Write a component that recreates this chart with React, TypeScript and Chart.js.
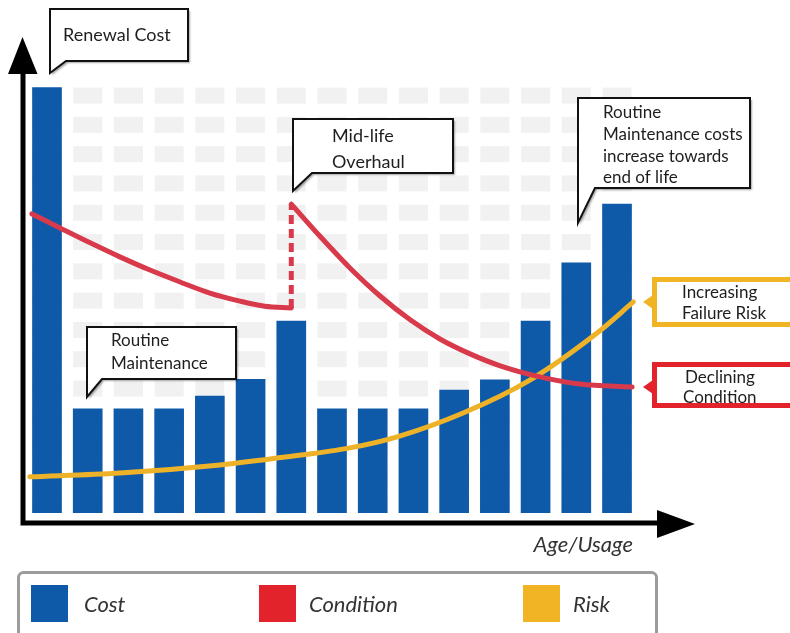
import React, { useEffect, useRef } from 'react';
import { Chart, registerables } from 'chart.js';

Chart.register(...registerables);

// ---- data ----
const ageSteps = [1, 2, 3, 4, 5, 6, 7, 8, 9, 10, 11, 12, 13, 14, 15];
const costValues = [100, 24.5, 24.5, 24.5, 27.5, 31.4, 45.1, 24.5, 24.5, 24.5, 28.9, 31.3, 45.1, 58.8, 72.6];
const conditionBeforeX = [0.63, 1.32, 2.06, 2.79, 3.53, 4.27, 5.0, 5.74, 6.35, 7];
const conditionBeforeY = [70.3, 67.0, 63.5, 60.2, 57.1, 54.3, 51.7, 49.8, 48.6, 48.2];
const conditionAfterX = [7, 7.7, 8.44, 9.18, 9.92, 10.65, 11.39, 12.13, 13.11, 14.09, 15.37];
const conditionAfterY = [72.6, 65.1, 57.6, 51.0, 45.4, 40.9, 37.4, 34.6, 32.0, 30.3, 29.6];
const riskX = [0.58, 2.79, 5.25, 6.9, 8.44, 9.6, 11.22, 12.87, 14.51, 15.4];
const riskY = [8.5, 9.4, 11.3, 13.2, 15.3, 17.9, 23.5, 31.3, 42.3, 49.6];
const legendLabels = ['Cost', 'Condition', 'Risk'];
const axisTitle = 'Age/Usage';
const calloutTexts = [
  ['Renewal Cost'],
  ['Mid-life', 'Overhaul'],
  ['Routine', 'Maintenance'],
  ['Routine', 'Maintenance costs', 'increase towards', 'end of life'],
];
const riskLabel = ['Increasing', 'Failure Risk'];
const conditionLabel = ['Declining', 'Condition'];

// ---- styles ----
const BLUE = '#0f5aa8';
const RED_LINE = '#d83a4b';
const YELLOW_LINE = '#eeb229';
const RED_BOX = '#e2232c';
const YELLOW_BOX = '#f0b424';
const FONT = 'Lato, "Open Sans", sans-serif';

const bubbles = [
  { l: 50, t: 9, r: 188, b: 61, px: 66, tipY: 73, tx: 63, ty: [41], size: 18 },
  { l: 293, t: 119, r: 453, b: 173, px: 312, tipY: 191, tx: 332, ty: [142, 168], size: 18 },
  { l: 87, t: 327, r: 236, b: 379, px: 102, tipY: 397, tx: 111, ty: [346, 369], size: 17 },
  { l: 578, t: 98, r: 750, b: 188, px: 595, tipY: 223, tx: 603, ty: [118, 140, 162, 183], size: 17 },
];

const decorPlugin = {
  id: 'decor',
  beforeDatasetsDraw(chart: any) {
    const { ctx, scales } = chart;
    const xs = scales.x;
    const ys = scales.y;
    ctx.save();
    ctx.fillStyle = '#f1f1f1';
    const top0 = ys.getPixelForValue(100);
    const bottom = ys.getPixelForValue(0);
    for (const c of ageSteps) {
      const cx = xs.getPixelForValue(c);
      for (let k = 0; ; k++) {
        const t = top0 + k * 29.3;
        if (t > bottom - 4) break;
        ctx.fillRect(cx - 14.5, t, 29, Math.min(16, bottom - t));
      }
    }
    ctx.restore();
  },
  afterDraw(chart: any) {
    const { ctx, scales } = chart;
    const ys = scales.y;
    ctx.save();
    // axes
    ctx.strokeStyle = '#000';
    ctx.fillStyle = '#000';
    ctx.lineWidth = 5;
    ctx.beginPath();
    ctx.moveTo(23, 70);
    ctx.lineTo(23, 525);
    ctx.moveTo(20.5, 523);
    ctx.lineTo(660, 523);
    ctx.stroke();
    ctx.beginPath();
    ctx.moveTo(22.5, 37);
    ctx.lineTo(37.5, 74);
    ctx.lineTo(8, 74);
    ctx.closePath();
    ctx.fill();
    ctx.beginPath();
    ctx.moveTo(695, 524);
    ctx.lineTo(657, 510);
    ctx.lineTo(657, 538);
    ctx.closePath();
    ctx.fill();

    // axis title
    ctx.font = 'italic 22px ' + FONT;
    ctx.fillStyle = '#333';
    ctx.textAlign = 'right';
    ctx.textBaseline = 'alphabetic';
    ctx.fillText(axisTitle, 633, 552);

    // speech bubbles
    ctx.textAlign = 'left';
    bubbles.forEach((b, i) => {
      ctx.save();
      ctx.beginPath();
      ctx.moveTo(b.l, b.t);
      ctx.lineTo(b.r, b.t);
      ctx.lineTo(b.r, b.b);
      ctx.lineTo(b.px, b.b);
      ctx.lineTo(b.l, b.tipY);
      ctx.closePath();
      ctx.fillStyle = '#fff';
      ctx.shadowColor = 'rgba(0,0,0,0.35)';
      ctx.shadowOffsetX = 2;
      ctx.shadowOffsetY = 2;
      ctx.shadowBlur = 2;
      ctx.fill();
      ctx.shadowColor = 'transparent';
      ctx.lineWidth = 2;
      ctx.strokeStyle = '#111';
      ctx.stroke();
      ctx.fillStyle = '#1e1e1e';
      ctx.font = b.size + 'px ' + FONT;
      calloutTexts[i].forEach((line, j) => ctx.fillText(line, b.tx, b.ty[j]));
      ctx.restore();
    });

    // right-hand labelled boxes
    const sideBox = (color: string, top: number, bottom: number, notchY: number, lines: string[], tx: number[], ty: number[]) => {
      ctx.save();
      ctx.fillStyle = '#fff';
      ctx.fillRect(654, top, 150, bottom - top);
      ctx.strokeStyle = color;
      ctx.lineWidth = 5;
      ctx.strokeRect(654.5, top, 150, bottom - top);
      ctx.fillStyle = color;
      ctx.beginPath();
      ctx.moveTo(653, notchY - 7);
      ctx.lineTo(643, notchY);
      ctx.lineTo(653, notchY + 7);
      ctx.closePath();
      ctx.fill();
      ctx.fillStyle = '#1e1e1e';
      ctx.font = '17px ' + FONT;
      lines.forEach((l, j) => ctx.fillText(l, tx[j], ty[j]));
      ctx.restore();
    };
    sideBox(YELLOW_BOX, 279.5, 324.5, ys.getPixelForValue(riskY[riskY.length - 1]), riskLabel, [682, 682], [298, 319]);
    sideBox(RED_BOX, 364.5, 405.5, ys.getPixelForValue(conditionAfterY[conditionAfterY.length - 1]), conditionLabel, [685, 683], [383, 403]);

    // legend
    ctx.strokeStyle = '#9c9c9c';
    ctx.lineWidth = 3;
    ctx.beginPath();
    (ctx as any).roundRect(18.5, 572.5, 638, 75, 5);
    ctx.stroke();
    const swatchX = [31, 259, 523];
    const swatchColors = [BLUE, RED_BOX, YELLOW_BOX];
    const textX = [84, 309, 573];
    ctx.font = 'italic 22px ' + FONT;
    legendLabels.forEach((lab, i) => {
      ctx.fillStyle = swatchColors[i];
      ctx.fillRect(swatchX[i], 585, 37, 37);
      ctx.fillStyle = '#333';
      ctx.fillText(lab, textX[i], 612);
    });
    ctx.restore();
  },
};

export default function App() {
  const canvasRef = useRef<HTMLCanvasElement | null>(null);

  useEffect(() => {
    const canvas = canvasRef.current;
    if (!canvas) return;
    const toPts = (xs: number[], ys: number[]) => xs.map((x, i) => ({ x, y: ys[i] }));
    const lineBase = {
      type: 'line' as const,
      pointRadius: 0,
      borderWidth: 5,
      fill: false,
      borderCapStyle: 'round' as const,
      borderJoinStyle: 'round' as const,
      cubicInterpolationMode: 'monotone' as const,
    };
    const chart = new Chart(canvas, {
      type: 'bar',
      data: {
        datasets: [
          {
            ...lineBase,
            label: 'Condition',
            data: toPts(conditionBeforeX, conditionBeforeY),
            borderColor: RED_LINE,
            order: 0,
          },
          {
            ...lineBase,
            label: 'Condition (after overhaul)',
            data: toPts(conditionAfterX, conditionAfterY),
            borderColor: RED_LINE,
            order: 0,
          },
          {
            ...lineBase,
            cubicInterpolationMode: 'default',
            borderCapStyle: 'butt',
            label: 'Overhaul',
            data: [
              { x: conditionBeforeX[conditionBeforeX.length - 1], y: conditionBeforeY[conditionBeforeY.length - 1] },
              { x: conditionAfterX[0], y: conditionAfterY[0] },
            ],
            borderColor: RED_LINE,
            borderDash: [9, 5],
            order: 0,
          },
          {
            ...lineBase,
            label: 'Risk',
            data: toPts(riskX, riskY),
            borderColor: YELLOW_LINE,
            order: 1,
          },
          {
            type: 'bar',
            label: 'Cost',
            data: ageSteps.map((a, i) => ({ x: a, y: costValues[i] })),
            backgroundColor: BLUE,
            barThickness: 29,
            order: 5,
          },
        ] as any,
      },
      options: {
        responsive: false,
        animation: false,
        events: [],
        layout: { padding: { left: 22.571, right: 99.71, top: 45, bottom: 120 } },
        scales: {
          x: { type: 'linear', min: 0.4, max: 16.8, offset: false, display: false },
          y: { min: 0, max: 110, display: false },
        },
        plugins: {
          legend: { display: false },
          tooltip: { enabled: false },
        },
      },
      plugins: [decorPlugin],
    });
    return () => chart.destroy();
  }, []);

  return (
    <div style={{ position: 'absolute', left: 0, top: 0, width: 790, height: 633, background: '#fff' }}>
      <canvas ref={canvasRef} width={790} height={633} />
    </div>
  );
}
